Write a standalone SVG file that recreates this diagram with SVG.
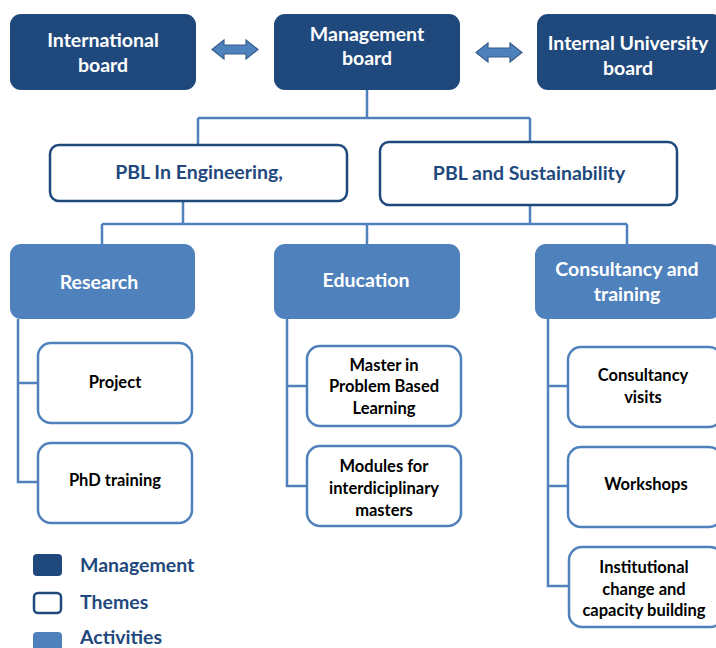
<svg xmlns="http://www.w3.org/2000/svg" width="716" height="648" viewBox="0 0 716 648">
  <style>
    .mgmt { fill: #1F497D; }
    .theme { fill: #FFFFFF; stroke: #1F497D; stroke-width: 2.5; }
    .act { fill: #4F81BD; }
    .item { fill: #FFFFFF; stroke: #4F81BD; stroke-width: 2.5; }
    .link { fill: none; stroke: #4F81BD; stroke-width: 2.5; }
    .dbl { fill: #4F81BD; stroke: #385D8A; stroke-width: 1.2; }
    text { font-family: Lato, "Open Sans", "Liberation Sans", sans-serif; font-weight: bold; text-anchor: middle; }
    .tw { fill: #FFFFFF; font-size: 19.5px; }
    .tt { fill: #1F497D; font-size: 19.5px; }
    .tb { fill: #000000; font-size: 16.5px; }
    .leg { fill: #1F497D; font-size: 19.5px; text-anchor: start; }
  </style>

  <!-- connectors -->
  <g id="connectors">
    <path class="link" d="M367 90 V118 M198 118 H530 M198 118 V145 M530 118 V142"/>
    <path class="link" d="M183 201 V224 M530 205 V224 M102 224 H627 M102 224 V244 M367 224 V244 M627 224 V244"/>
    <path class="link" d="M18 319 V482 H38 M18 383 H38"/>
    <path class="link" d="M287 319 V486 H307 M287 386 H307"/>
    <path class="link" d="M548 319 V586 H568 M548 386 H568 M548 486 H568"/>
    <path class="dbl" d="M212 49.5 L224 40 V45 H246 V40 L258 49.5 L246 59 V54 H224 V59 Z"/>
    <path class="dbl" d="M476 52.5 L488 43 V48 H510 V43 L522 52.5 L510 62 V57 H488 V62 Z"/>
  </g>

  <!-- management -->
  <g id="international-board">
    <rect class="mgmt" x="10" y="14" width="186" height="76" rx="11"/>
    <text class="tw" x="103" y="47">International</text>
    <text class="tw" x="103" y="72">board</text>
  </g>
  <g id="management-board">
    <rect class="mgmt" x="274" y="14" width="186" height="76" rx="11"/>
    <text class="tw" x="367" y="41">Management</text>
    <text class="tw" x="367" y="65">board</text>
  </g>
  <g id="internal-university-board">
    <rect class="mgmt" x="537" y="14" width="186" height="76" rx="11"/>
    <text class="tw" x="628" y="50">Internal University</text>
    <text class="tw" x="628" y="75">board</text>
  </g>

  <!-- themes -->
  <g id="pbl-engineering">
    <rect class="theme" x="50" y="145" width="297" height="56" rx="9"/>
    <text class="tt" x="199" y="179">PBL In Engineering,</text>
  </g>
  <g id="pbl-sustainability">
    <rect class="theme" x="380" y="142" width="297" height="63" rx="9"/>
    <text class="tt" x="529" y="180">PBL and Sustainability</text>
  </g>

  <!-- activities -->
  <g id="research">
    <rect class="act" x="10" y="244" width="185" height="75" rx="11"/>
    <text class="tw" x="99" y="289">Research</text>
  </g>
  <g id="education">
    <rect class="act" x="274" y="244" width="186" height="75" rx="11"/>
    <text class="tw" x="366" y="287">Education</text>
  </g>
  <g id="consultancy-training">
    <rect class="act" x="535" y="244" width="186" height="75" rx="11"/>
    <text class="tw" x="627" y="276">Consultancy and</text>
    <text class="tw" x="627" y="301">training</text>
  </g>

  <!-- activity items -->
  <g id="project">
    <rect class="item" x="38" y="343" width="154" height="80" rx="13"/>
    <text class="tb" x="115" y="388">Project</text>
  </g>
  <g id="phd-training">
    <rect class="item" x="38" y="443" width="154" height="80" rx="13"/>
    <text class="tb" x="115" y="486">PhD training</text>
  </g>
  <g id="master-pbl">
    <rect class="item" x="307" y="346" width="154" height="80" rx="13"/>
    <text class="tb" x="384" y="371">Master in</text>
    <text class="tb" x="384" y="392">Problem Based</text>
    <text class="tb" x="384" y="414">Learning</text>
  </g>
  <g id="modules">
    <rect class="item" x="307" y="446" width="154" height="80" rx="13"/>
    <text class="tb" x="384" y="472">Modules for</text>
    <text class="tb" x="384" y="494">interdiciplinary</text>
    <text class="tb" x="384" y="516">masters</text>
  </g>
  <g id="consultancy-visits">
    <rect class="item" x="568" y="347" width="154" height="80" rx="13"/>
    <text class="tb" x="643" y="381">Consultancy</text>
    <text class="tb" x="643" y="403">visits</text>
  </g>
  <g id="workshops">
    <rect class="item" x="568" y="447" width="154" height="80" rx="13"/>
    <text class="tb" x="646" y="490">Workshops</text>
  </g>
  <g id="institutional-change">
    <rect class="item" x="569" y="547" width="154" height="80" rx="13"/>
    <text class="tb" x="644" y="573">Institutional</text>
    <text class="tb" x="644" y="595">change and</text>
    <text class="tb" x="644" y="616">capacity building</text>
  </g>

  <!-- legend -->
  <g id="legend">
    <rect class="mgmt" x="33" y="554" width="29" height="22" rx="4"/>
    <text class="leg" x="80" y="572">Management</text>
    <rect x="34" y="593" width="27" height="20" rx="4" fill="#FFFFFF" stroke="#1F497D" stroke-width="2.5"/>
    <text class="leg" x="80" y="609">Themes</text>
    <rect class="act" x="33" y="632" width="29" height="22" rx="4"/>
    <text class="leg" x="80" y="644">Activities</text>
  </g>
</svg>
